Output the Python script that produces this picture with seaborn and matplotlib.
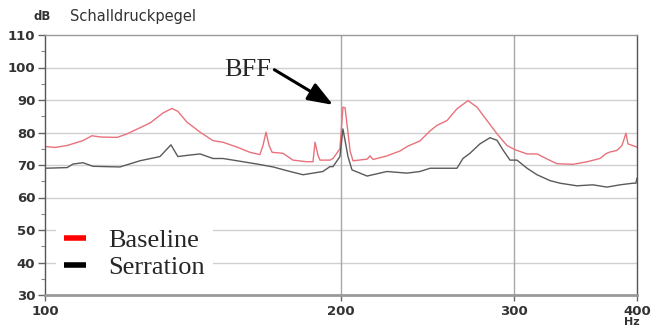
import matplotlib
matplotlib.use("Agg")
import matplotlib.pyplot as plt
from matplotlib.lines import Line2D
from matplotlib.ticker import NullLocator, MultipleLocator
import seaborn as sns
import pandas as pd

baseline_freq = [100, 102.4, 105.3, 109.3, 111.6, 114, 118.4, 121, 125, 128, 131.8, 134.6,
                 136.5, 139.4, 143.8, 148.2, 151.7, 156.8, 161.6, 165.4, 166.6, 167.8, 169,
                 170.2, 174.6, 178.7, 184.7, 187.3, 188.2, 189.5, 190.4, 194.9, 196.3, 199.5,
                 200.9, 201.9, 203.3, 204.3, 205.7, 212.6, 214.1, 215.6, 222.7, 229.6, 233.9,
                 240.6, 246.4, 250.4, 256.4, 262.4, 269.3, 275.0, 281.5, 288.2, 295.0, 300.6,
                 309.2, 316.5, 326.3, 331.6, 344.3, 355.8, 366.8, 372, 375.5, 381.7, 386.2,
                 389.8, 391.6, 400]
baseline_db = [75.7, 75.4, 76.0, 77.5, 79.0, 78.6, 78.5, 79.5, 81.5, 83.0, 86.0, 87.4,
               86.5, 83.2, 80.1, 77.5, 77.0, 75.5, 73.9, 73.2, 76.0, 80.1, 76.0,
               73.9, 73.6, 71.5, 71.0, 71.0, 77.0, 73.0, 71.5, 71.5, 72.0, 75.0,
               87.8, 87.6, 80.0, 74.3, 71.3, 71.8, 72.8, 71.7, 72.8, 74.3, 75.8,
               77.4, 80.5, 82.2, 83.7, 87.3, 89.8, 87.8, 83.7, 79.6, 76.0, 74.7,
               73.4, 73.4, 71.4, 70.4, 70.2, 71.0, 72.0, 73.5, 74.0, 74.5, 76.0,
               79.8, 76.5, 75.5]

serration_freq = [100, 105.3, 106.8, 109.3, 111.9, 119.2, 124.9, 130.9, 134.3, 136.5, 139.8,
                  143.8, 148.2, 151.7, 156.8, 164.3, 170.6, 177.5, 183.0, 187.3, 191.7, 194.9,
                  196.3, 199.5, 200.9, 203.3, 205.2, 212.6, 222.7, 233.4, 240.6, 246.4, 254.0,
                  262.4, 266.1, 270.5, 276.9, 283.5, 288.2, 292.3, 297.1, 302.0, 309.2, 316.5,
                  326.3, 334.0, 347.5, 360.8, 372.9, 384.4, 396.3, 399, 400]
serration_db = [69.0, 69.2, 70.3, 70.7, 69.6, 69.4, 71.3, 72.6, 76.2, 72.6, 73.0,
                73.4, 72.0, 72.0, 71.3, 70.3, 69.4, 68.0, 67.0, 67.5, 68.0, 69.5,
                69.5, 72.6, 81.1, 72.6, 68.5, 66.6, 68.0, 67.5, 68.0, 69.0, 69.0,
                69.0, 72.0, 73.6, 76.5, 78.4, 77.6, 74.6, 71.5, 71.5, 69.0, 67.0,
                65.2, 64.4, 63.6, 63.9, 63.2, 63.9, 64.4, 64.4, 66.0]

series_names = ["Baseline", "Serration"]
x_ticks = [100, 200, 300, 400]
y_ticks = [30, 40, 50, 60, 70, 80, 90, 100, 110]

df = pd.concat([
    pd.DataFrame({"f": baseline_freq, "dB": baseline_db, "series": series_names[0]}),
    pd.DataFrame({"f": serration_freq, "dB": serration_db, "series": series_names[1]}),
])

sns.set_style("white")
fig = plt.figure(figsize=(6.65, 3.27), dpi=100)
ax = fig.add_axes([45 / 665, 1 - 295 / 327, 592 / 665, 260 / 327])

line_colors = {"Baseline": "#e8727c", "Serration": "#5a5a5a"}
sns.lineplot(data=df, x="f", y="dB", hue="series", palette=line_colors,
             ax=ax, legend=False, linewidth=1.0, estimator=None, sort=False)

ax.set_xscale("log")
ax.set_xlim(100, 400)
ax.set_ylim(30, 110)
ax.set_xticks(x_ticks)
ax.set_xticklabels([str(t) for t in x_ticks])
ax.xaxis.set_minor_locator(NullLocator())
ax.set_yticks(y_ticks)
ax.set_yticklabels([str(t) for t in y_ticks])
ax.yaxis.set_minor_locator(MultipleLocator(5))
ax.set_xlabel("")
ax.set_ylabel("")

for lbl in ax.get_xticklabels() + ax.get_yticklabels():
    lbl.set_fontweight("bold")
    lbl.set_fontsize(9.5)
    lbl.set_color("#333333")

ax.tick_params(axis="y", which="major", direction="out", length=5, width=1, color="#666666", pad=2, left=True)
ax.tick_params(axis="y", which="minor", direction="out", length=3, width=0.8, color="#888888", left=True)
ax.tick_params(axis="x", which="major", direction="out", length=4, width=1, color="#666666", pad=3, bottom=True)

ax.grid(False)
for y in y_ticks[1:-1]:
    ax.axhline(y, color="#d0d0d0", linewidth=1.0, zorder=0)
for x in [200, 300]:
    ax.axvline(x, color="#a8a8a8", linewidth=1.0, zorder=0)

ax.spines["left"].set_color("#555555")
ax.spines["left"].set_linewidth(1.0)
ax.spines["right"].set_color("#555555")
ax.spines["right"].set_linewidth(1.0)
ax.spines["top"].set_color("#999999")
ax.spines["top"].set_linewidth(1.0)
ax.spines["bottom"].set_color("#999999")
ax.spines["bottom"].set_linewidth(2.0)

fig.text(33 / 665, 1 - 17 / 327, "dB", fontsize=8.5, fontweight="bold", color="#333333", va="center")
fig.text(70 / 665, 1 - 17 / 327, "Schalldruckpegel", fontsize=10.5, color="#333333", va="center")
fig.text(632 / 665, 1 - 322 / 327, "Hz", fontsize=8, fontweight="bold", color="#333333", va="center", ha="center")

ax.annotate("BFF", xy=(196.3, 88.5), xytext=(152.1, 97.4),
            fontsize=19, family="Liberation Serif", va="baseline", ha="left",
            arrowprops=dict(arrowstyle="-|>,head_length=0.8,head_width=0.3",
                            color="black", linewidth=2.2, shrinkA=0, shrinkB=0,
                            relpos=(1.0, 0.6)))

handles = [Line2D([], [], color="#ff0000", linewidth=4, solid_capstyle="butt"),
           Line2D([], [], color="#000000", linewidth=4, solid_capstyle="butt")]
leg = ax.legend(handles, series_names, loc="center left", bbox_to_anchor=(0.018, 0.158),
                prop={"family": "Liberation Serif", "size": 19}, frameon=True,
                handlelength=0.85, handletextpad=0.85, labelspacing=0.15,
                borderpad=0.3, borderaxespad=0)
leg.get_frame().set_facecolor("white")
leg.get_frame().set_edgecolor("none")
leg.get_frame().set_alpha(1)

fig.savefig("out.png", dpi=100)
